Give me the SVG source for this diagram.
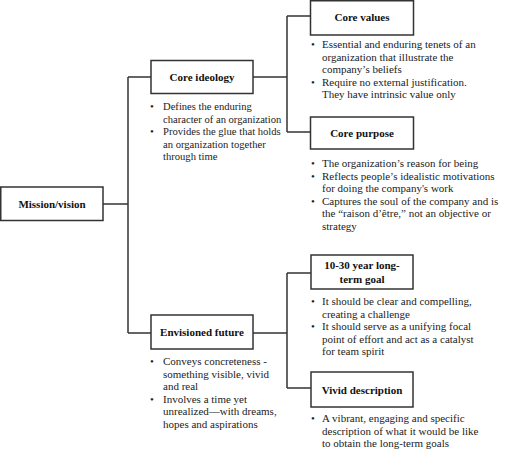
<svg xmlns="http://www.w3.org/2000/svg" width="507" height="456" viewBox="0 0 507 456" font-family="'Liberation Serif', 'DejaVu Serif', serif">
<style>
.box{fill:#fff;stroke:#333;stroke-width:1.5}
.conn{fill:none;stroke:#333;stroke-width:1.5}
text{font-family:'Liberation Serif','DejaVu Serif',serif;font-size:11px;fill:#222}
.b{font-weight:bold;text-anchor:middle;fill:#111}
.s{font-size:10.6px}
</style>
<rect width="507" height="456" fill="#fff"/>
<g id="connectors">
<path class="conn" d="M103,204 H128 M128,77 V333 M128,77 H151 M128,333 H151"/>
<path class="conn" d="M253,77 H287 M287,16 V132 M287,16 H310 M287,132 H310"/>
<path class="conn" d="M253,333 H287 M287,273 V388 M287,273 H311 M287,388 H311"/>
</g>
<g id="mission">
<rect class="box" x="0.75" y="187" width="102.25" height="33.5"/>
<text class="b" x="52" y="208">Mission/vision</text>
</g>
<g id="core-ideology">
<rect class="box" x="151" y="60.5" width="102" height="33"/>
<text class="b" x="202" y="81">Core ideology</text>
<text x="150" y="110">•</text><text class="s" x="163" y="110">Defines the enduring</text>
<text class="s" x="163" y="122.5">character of an organization</text>
<text x="150" y="135">•</text><text class="s" x="163" y="135">Provides the glue that holds</text>
<text class="s" x="163" y="147.5">an organization together</text>
<text class="s" x="163" y="160">through time</text>
</g>
<g id="core-values">
<rect class="box" x="310.5" y="0.75" width="103" height="34.25"/>
<text class="b" x="362" y="21">Core values</text>
<text x="311" y="48">•</text><text x="322" y="48">Essential and enduring tenets of an</text>
<text x="322" y="60.5">organization that illustrate the</text>
<text x="322" y="73">company’s beliefs</text>
<text x="311" y="85.5">•</text><text x="322" y="85.5">Require no external justification.</text>
<text x="322" y="98">They have  intrinsic value only</text>
</g>
<g id="core-purpose">
<rect class="box" x="310.5" y="117" width="103" height="32"/>
<text class="b" x="362" y="137">Core purpose</text>
<text x="311" y="167">•</text><text x="322" y="167">The organization’s reason for being</text>
<text x="311" y="179.5">•</text><text x="322" y="179.5">Reflects people’s idealistic motivations</text>
<text x="322" y="192">for doing the company's work</text>
<text x="311" y="204.5">•</text><text x="322" y="204.5">Captures the soul of the company and is</text>
<text x="322" y="217">the “raison d’être,” not an objective or</text>
<text x="322" y="229.5">strategy</text>
</g>
<g id="envisioned-future">
<rect class="box" x="151" y="315" width="102" height="34"/>
<text class="b" x="202" y="336">Envisioned future</text>
<text x="150" y="365">•</text><text x="163" y="365">Conveys concreteness -</text>
<text x="163" y="377.5">something visible, vivid</text>
<text x="163" y="390">and real</text>
<text x="150" y="402.5">•</text><text x="163" y="402.5">Involves a time yet</text>
<text x="163" y="415">unrealized—with dreams,</text>
<text x="163" y="427.5">hopes and aspirations</text>
</g>
<g id="long-term-goal">
<rect class="box" x="311" y="255" width="102" height="34"/>
<text class="b" x="362" y="269">10-30 year long-</text>
<text class="b" x="362" y="283">term goal</text>
<text x="311" y="305">•</text><text x="322" y="305">It should be clear and compelling,</text>
<text x="322" y="317.5">creating a challenge</text>
<text x="311" y="330">•</text><text x="322" y="330">It should serve as a unifying focal</text>
<text x="322" y="342.5">point of effort and act as a catalyst</text>
<text x="322" y="355">for team spirit</text>
</g>
<g id="vivid-description">
<rect class="box" x="311" y="372" width="102" height="35"/>
<text class="b" x="362" y="394">Vivid description</text>
<text x="311" y="422">•</text><text x="322" y="422">A vibrant, engaging and specific</text>
<text x="322" y="434.5">description of what it would be like</text>
<text x="322" y="447">to obtain the long-term goals</text>
</g>
</svg>
